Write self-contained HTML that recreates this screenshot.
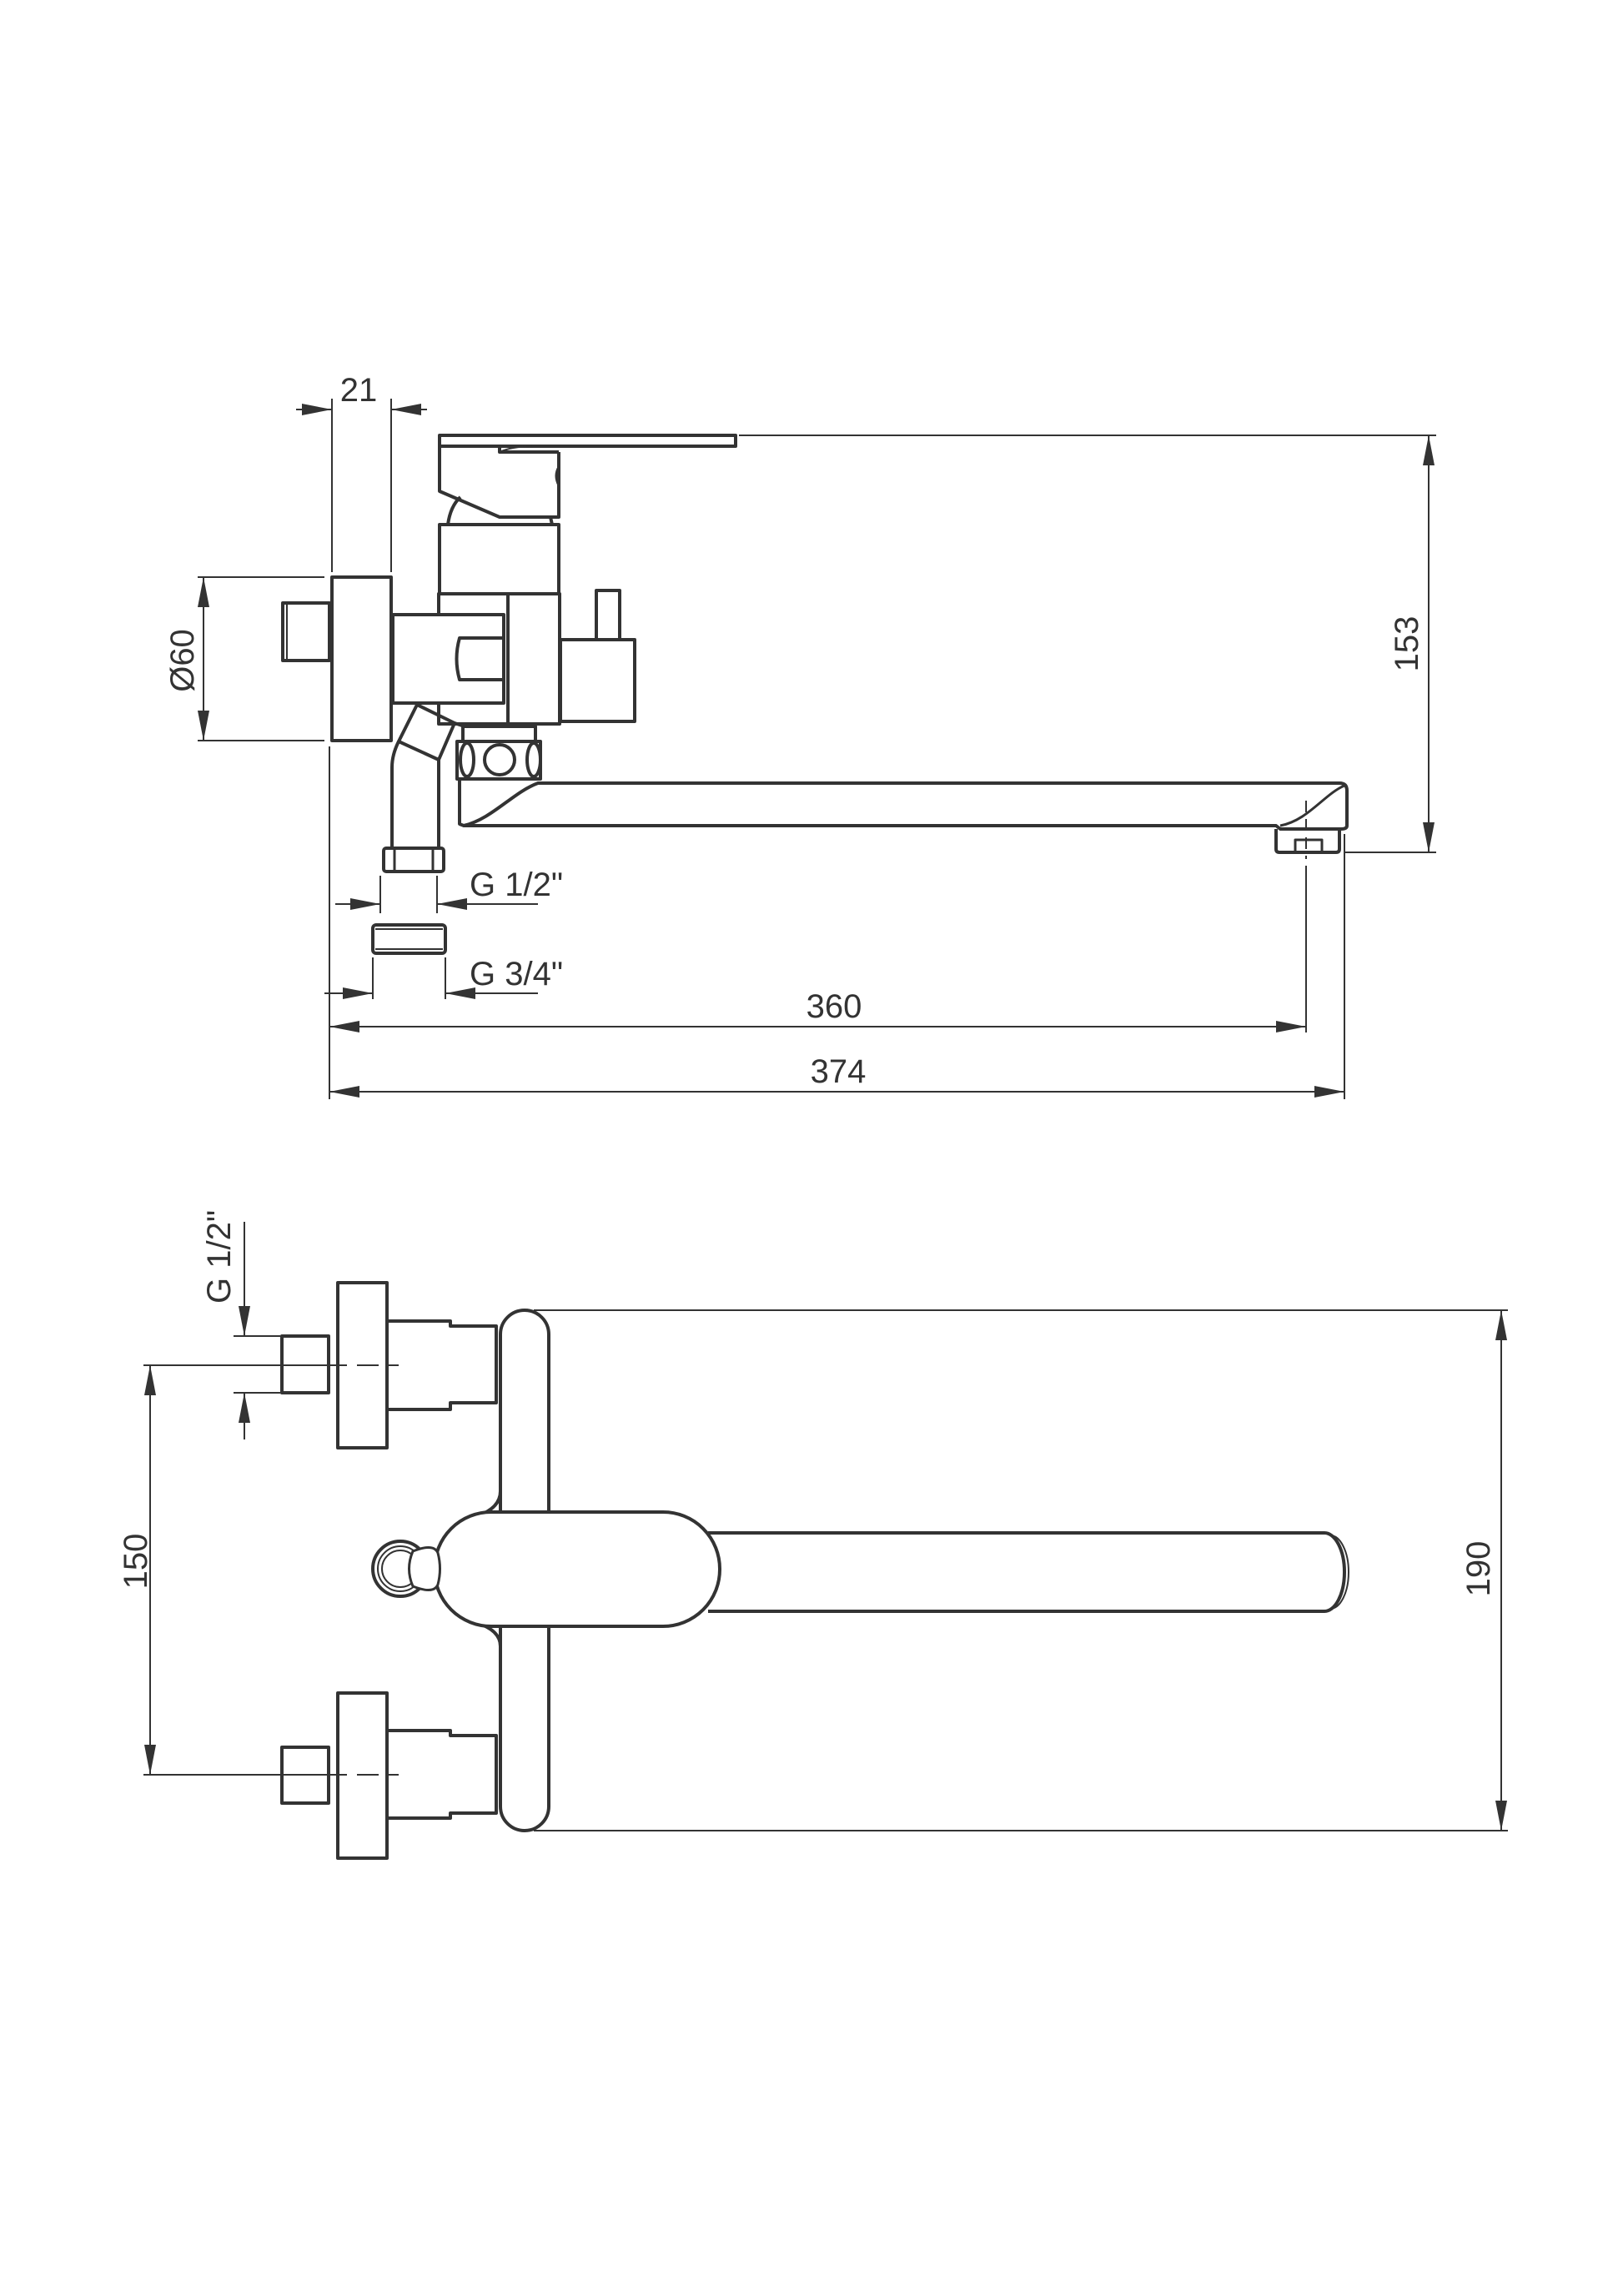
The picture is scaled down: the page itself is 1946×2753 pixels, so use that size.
<!DOCTYPE html>
<html><head><meta charset="utf-8"><style>
html,body{margin:0;padding:0;background:#fff}
svg{display:block}
text{font-family:"Liberation Sans Narrow","Liberation Sans",sans-serif;fill:#333;font-size:40px}
</style></head><body>
<svg width="1946" height="2753" viewBox="0 0 1946 2753" xmlns="http://www.w3.org/2000/svg">
<defs>
<marker id="a" viewBox="0 0 36 14" refX="36" refY="7" markerWidth="36" markerHeight="14" markerUnits="userSpaceOnUse" orient="auto"><path d="M0,0 L36,7 L0,14 Z" fill="#333"/></marker>
</defs>
<g fill="none" stroke="#333" stroke-width="2">
<!-- upper dims -->
<line x1="398" y1="478" x2="398" y2="686"/><line x1="469" y1="478" x2="469" y2="686"/>
<line x1="355" y1="491" x2="398" y2="491" marker-end="url(#a)"/>
<line x1="512" y1="491" x2="469" y2="491" marker-end="url(#a)"/>
<line x1="237" y1="692" x2="389" y2="692"/><line x1="237" y1="888" x2="389" y2="888"/>
<line x1="244" y1="792" x2="244" y2="692" marker-end="url(#a)"/>
<line x1="244" y1="792" x2="244" y2="888" marker-end="url(#a)"/>
<line x1="886" y1="522" x2="1722" y2="522"/>
<line x1="1612" y1="1022" x2="1722" y2="1022"/>
<line x1="1713" y1="772" x2="1713" y2="522" marker-end="url(#a)"/>
<line x1="1713" y1="772" x2="1713" y2="1022" marker-end="url(#a)"/>
<line x1="395" y1="895" x2="395" y2="1318"/>
<line x1="456" y1="1050" x2="456" y2="1095"/><line x1="524" y1="1050" x2="524" y2="1095"/>
<line x1="402" y1="1084" x2="456" y2="1084" marker-end="url(#a)"/>
<line x1="645" y1="1084" x2="524" y2="1084" marker-end="url(#a)"/>
<line x1="447" y1="1148" x2="447" y2="1198"/><line x1="534" y1="1148" x2="534" y2="1198"/>
<line x1="389" y1="1191" x2="447" y2="1191" marker-end="url(#a)"/>
<line x1="645" y1="1191" x2="534" y2="1191" marker-end="url(#a)"/>
<line x1="1566" y1="1038" x2="1566" y2="1238"/>
<line x1="1612" y1="1000" x2="1612" y2="1318"/>
<line x1="1000" y1="1231" x2="395" y2="1231" marker-end="url(#a)"/>
<line x1="1000" y1="1231" x2="1566" y2="1231" marker-end="url(#a)"/>
<line x1="1000" y1="1309" x2="395" y2="1309" marker-end="url(#a)"/>
<line x1="1000" y1="1309" x2="1612" y2="1309" marker-end="url(#a)"/>
<line x1="1566" y1="960" x2="1566" y2="1030" stroke-dasharray="14,8"/>
</g>
<g fill="none" stroke="#333" stroke-width="4" stroke-linejoin="round">
<!-- upper view object -->
<rect x="339" y="723" width="56" height="69"/>
<line x1="344" y1="725" x2="344" y2="790" stroke-width="2"/>
<rect x="398" y="692" width="71" height="196"/>
<rect x="527" y="522" width="355" height="13"/>
<path d="M527,535 V589 L599,620 H670 V542"/>
<path d="M599,535 V542 H670"/>
<path d="M599,542 Q615,535 640,535" stroke-width="2"/>
<path d="M670,560 Q664,570 670,582" stroke-width="3"/>
<path d="M537,629 Q540,607 552,596"/>
<path d="M660,620 L662,629"/>
<rect x="527" y="629" width="143" height="83"/>
<rect x="526" y="712" width="145" height="156"/>
<line x1="609" y1="712" x2="609" y2="868"/>
<rect x="471" y="737" width="133" height="106" fill="#fff"/>
<path d="M602,765 H551 Q544,790 551,815 H602"/>
<rect x="672" y="767" width="89" height="98"/>
<path d="M715,767 V708 H743 V767" />
<path d="M555,871 H642 V889 H555 Z"/>
<rect x="548" y="889" width="100" height="45"/>
<ellipse cx="560" cy="911" rx="8" ry="20"/>
<circle cx="599" cy="911" r="18"/>
<ellipse cx="640" cy="911" rx="8" ry="20"/>
<path d="M551,934 V988 L556,990 C590,982 615,950 645,939 H1606 Q1615,939 1615,948 V990 Q1615,994 1608,994 H1535 L1530,990 H556"/>
<path d="M1535,990 C1568,984 1588,952 1612,942" stroke-width="3"/>
<path d="M1530,994 V1018 Q1530,1022 1534,1022 H1602 Q1606,1022 1606,1018 V994"/>
<path d="M1553,1022 V1007 H1585 V1022" stroke-width="3"/>
<!-- hose -->
<path d="M500,845 L545,867 L526,911 L478,889 Z"/>
<path d="M545,867 L557,871"/>
<path d="M478,889 Q470,905 470,920 V1017"/>
<line x1="526" y1="911" x2="526" y2="1017"/>
<rect x="460" y="1017" width="72" height="28" rx="3"/>
<line x1="473" y1="1018" x2="473" y2="1044" stroke-width="3"/>
<line x1="519" y1="1018" x2="519" y2="1044" stroke-width="3"/>
<rect x="447" y="1109" width="87" height="34" rx="4"/>
<line x1="450" y1="1114" x2="531" y2="1114" stroke-width="2"/>
<line x1="450" y1="1138" x2="531" y2="1138" stroke-width="2"/>
</g>
<!-- lower view -->
<g fill="none" stroke="#333" stroke-width="2">
<line x1="293" y1="1465" x2="293" y2="1602" marker-end="url(#a)"/>
<line x1="293" y1="1726" x2="293" y2="1670" marker-end="url(#a)"/>
<line x1="280" y1="1602" x2="336" y2="1602"/><line x1="280" y1="1670" x2="336" y2="1670"/>
<line x1="172" y1="1637" x2="390" y2="1637"/>
<line x1="172" y1="2128" x2="390" y2="2128"/>
<line x1="390" y1="1637" x2="478" y2="1637" stroke-dasharray="26,12"/>
<line x1="390" y1="2128" x2="478" y2="2128" stroke-dasharray="26,12"/>
<line x1="180" y1="1880" x2="180" y2="1637" marker-end="url(#a)"/>
<line x1="180" y1="1880" x2="180" y2="2128" marker-end="url(#a)"/>
<line x1="640" y1="1571" x2="1808" y2="1571"/>
<line x1="640" y1="2195" x2="1808" y2="2195"/>
<line x1="1800" y1="1883" x2="1800" y2="1571" marker-end="url(#a)"/>
<line x1="1800" y1="1883" x2="1800" y2="2195" marker-end="url(#a)"/>
</g>
<g fill="none" stroke="#333" stroke-width="4" stroke-linejoin="round">
<rect x="338" y="1602" width="56" height="68"/>
<rect x="405" y="1538" width="59" height="198"/>
<path d="M466,1584 H540 V1590 H595 V1682 H540 V1690 H466"/>
<rect x="338" y="2095" width="56" height="67"/>
<rect x="405" y="2030" width="59" height="198"/>
<path d="M466,2075 H540 V2081 H595 V2174 H540 V2180 H466"/>
<rect x="600" y="1571" width="58" height="624" rx="29"/>
<path d="M849,1838 H1588 A24,47 0 0 1 1588,1932 H849" fill="#fff"/>
<path d="M1595,1841 A22,44 0 0 1 1595,1929" stroke-width="2"/>
<path d="M600,1788 Q600,1808 572,1818 Q555,1830 540,1850 M600,1974 Q600,1955 572,1946 Q555,1935 540,1915" fill="#fff"/>
<rect x="521" y="1813" width="342" height="137" rx="68" fill="#fff"/>
<circle cx="480" cy="1881" r="33" fill="#fff"/>
<circle cx="480" cy="1881" r="27" stroke-width="2"/>
<circle cx="480" cy="1881" r="22" stroke-width="2"/>
<path d="M495,1860 Q520,1850 525,1862 Q530,1881 525,1900 Q520,1912 495,1902 Q486,1881 495,1860 Z" fill="#fff" stroke-width="3"/>
</g>
<!-- text -->
<text x="430" y="481" text-anchor="middle">21</text>
<text transform="translate(232,792) rotate(-90)" text-anchor="middle">Ø60</text>
<text transform="translate(1700,772) rotate(-90)" text-anchor="middle">153</text>
<text x="563" y="1074">G 1/2"</text>
<text x="563" y="1181">G 3/4"</text>
<text x="1000" y="1220" text-anchor="middle">360</text>
<text x="1005" y="1298" text-anchor="middle">374</text>
<text transform="translate(276,1507) rotate(-90)" text-anchor="middle">G 1/2"</text>
<text transform="translate(176,1872) rotate(-90)" text-anchor="middle">150</text>
<text transform="translate(1786,1881) rotate(-90)" text-anchor="middle">190</text>
</svg>
</body></html>
